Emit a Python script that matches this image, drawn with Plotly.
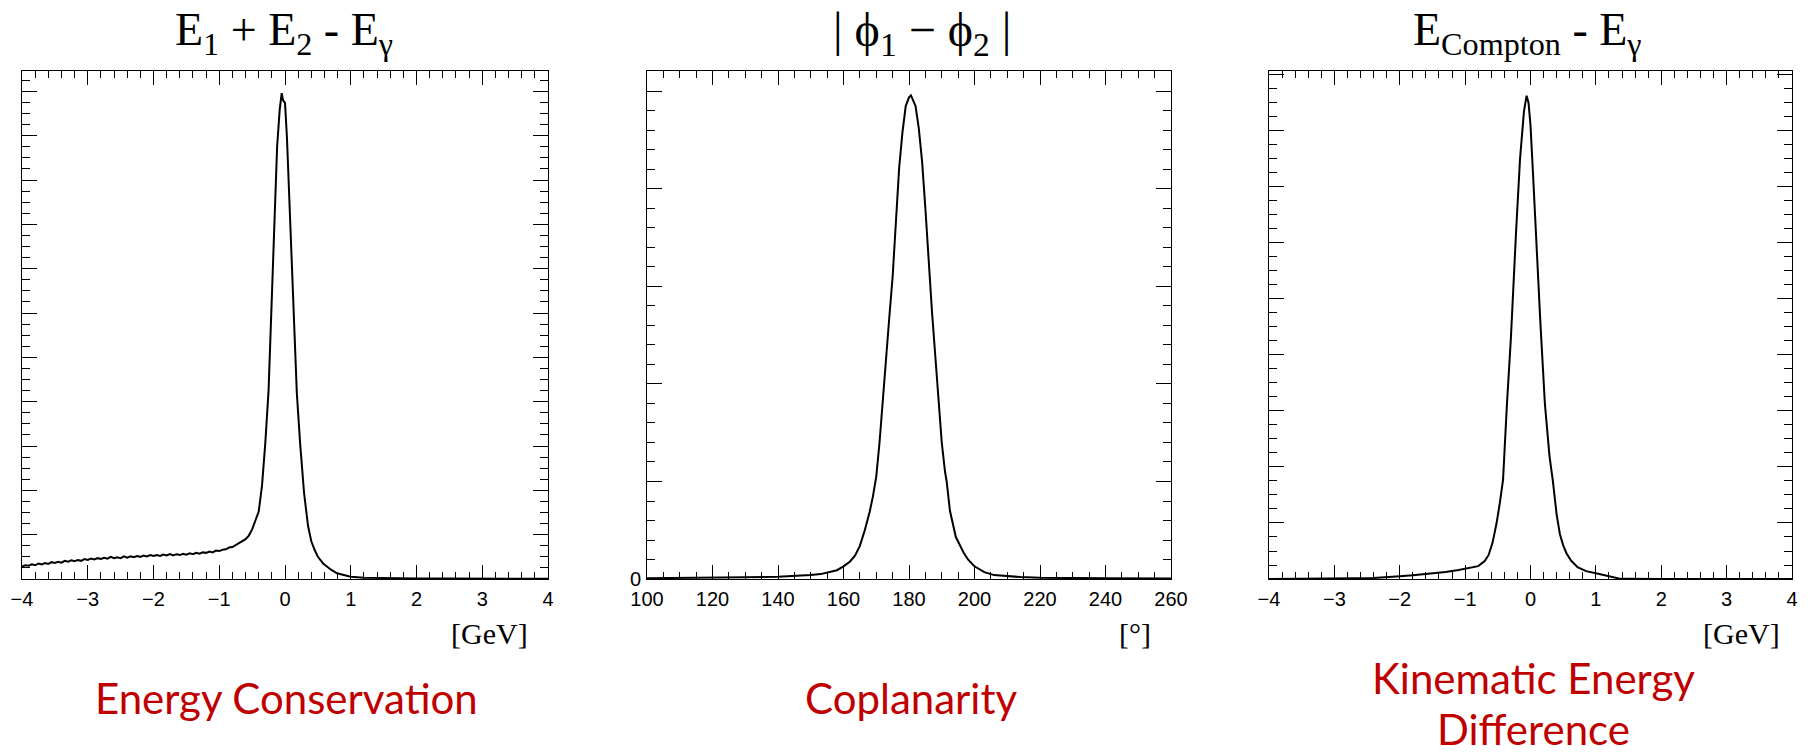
import plotly.graph_objects as go

# ---------------- data ----------------
# Panel 1: E1 + E2 - E_gamma  [GeV]; y in units of one major y tick
p1_x = [-4.00, -3.95, -3.90, -3.85, -3.80, -3.75, -3.70, -3.65, -3.60, -3.55, -3.50, -3.45, -3.40,
        -3.35, -3.30, -3.25, -3.20, -3.15, -3.10, -3.05, -3.00, -2.95, -2.90, -2.85, -2.80, -2.75,
        -2.70, -2.65, -2.60, -2.55, -2.50, -2.45, -2.40, -2.35, -2.30, -2.25, -2.20, -2.15, -2.10,
        -2.05, -2.00, -1.95, -1.90, -1.85, -1.80, -1.75, -1.70, -1.65, -1.60, -1.55, -1.50, -1.45,
        -1.40, -1.35, -1.30, -1.25, -1.20, -1.15, -1.10, -1.05, -1.00, -0.95, -0.90, -0.85, -0.80,
        -0.75, -0.70, -0.65, -0.60, -0.55, -0.50, -0.45, -0.40, -0.35, -0.30, -0.25, -0.20, -0.15,
        -0.12, -0.08, -0.05, -0.03, 0.0, 0.03, 0.06, 0.10, 0.14, 0.18, 0.23, 0.29, 0.35, 0.40, 0.45,
        0.50, 0.58, 0.65, 0.70, 0.79, 0.90, 1.0, 1.2, 1.5, 2.0, 2.5, 3.0, 3.5, 4.0]
p1_y = [0.28, 0.31, 0.30, 0.33, 0.31, 0.35, 0.33, 0.36, 0.34, 0.38, 0.36, 0.39, 0.37,
        0.41, 0.39, 0.42, 0.40, 0.43, 0.41, 0.45, 0.43, 0.46, 0.44, 0.47, 0.45, 0.48,
        0.46, 0.50, 0.47, 0.49, 0.47, 0.51, 0.48, 0.51, 0.49, 0.52, 0.50, 0.53, 0.51,
        0.54, 0.52, 0.54, 0.52, 0.55, 0.53, 0.56, 0.53, 0.56, 0.54, 0.57, 0.55, 0.58,
        0.56, 0.59, 0.57, 0.60, 0.59, 0.62, 0.60, 0.64, 0.63, 0.66, 0.67, 0.71, 0.72,
        0.77, 0.80, 0.86, 0.90, 0.98, 1.12, 1.32, 1.52, 2.10, 3.06, 4.25, 6.40, 8.60,
        9.75, 10.60, 10.96, 10.80, 10.74, 9.95, 8.85, 7.20, 5.70, 4.19, 3.06, 1.94, 1.20, 0.85, 0.66,
        0.50, 0.35, 0.26, 0.21, 0.13, 0.08, 0.05, 0.03, 0.02, 0.012, 0.01, 0.006, 0.004, 0.003]

# Panel 2: |phi1 - phi2|  [deg]
p2_x = [100, 110, 120, 130, 140, 145, 150, 153, 156, 158, 160, 162, 163.5, 165, 166.5, 168, 169,
        170, 171, 172, 173, 174, 175, 176, 177, 178, 179, 180, 180.6, 181, 182, 183, 184, 185, 186,
        187, 188, 189, 190, 191, 191.5, 192.5, 194.3, 196.7, 198, 200, 203, 206, 210, 214, 220, 226,
        240, 260]
p2_y = [0.008, 0.010, 0.013, 0.018, 0.024, 0.03, 0.04, 0.05, 0.07, 0.09, 0.13, 0.18, 0.24, 0.34,
        0.50, 0.69, 0.85, 1.05, 1.40, 1.80, 2.22, 2.69, 3.10, 3.70, 4.22, 4.58, 4.85, 4.94, 4.96,
        4.93, 4.85, 4.62, 4.28, 3.80, 3.25, 2.75, 2.30, 1.85, 1.40, 1.10, 1.00, 0.70, 0.43, 0.27,
        0.20, 0.13, 0.07, 0.04, 0.03, 0.02, 0.013, 0.01, 0.007, 0.005]

# Panel 3: E_Compton - E_gamma  [GeV]
p3_x = [-4.0, -3.5, -3.0, -2.7, -2.4, -2.2, -2.0, -1.8, -1.6, -1.5, -1.3, -1.1, -1.0, -0.9, -0.8,
        -0.7, -0.64, -0.58, -0.52, -0.47, -0.42, -0.36, -0.30, -0.22, -0.16, -0.10, -0.06, -0.03,
        0.0, 0.04, 0.08, 0.15, 0.22, 0.29, 0.34, 0.40, 0.45, 0.50, 0.55, 0.62, 0.72, 0.85, 1.05,
        1.2, 1.35, 1.5, 2.0, 4.0]
p3_y = [0.0, 0.0, 0.005, 0.012, 0.02, 0.03, 0.05, 0.065, 0.085, 0.10, 0.125, 0.16, 0.18, 0.20,
        0.23, 0.32, 0.43, 0.65, 0.99, 1.35, 1.77, 3.13, 4.30, 6.22, 7.50, 8.35, 8.63, 8.50, 8.10,
        7.20, 6.22, 4.60, 3.13, 2.20, 1.77, 1.15, 0.80, 0.60, 0.46, 0.33, 0.21, 0.14, 0.09, 0.05,
        0.01, 0.005, 0.0, 0.0]

titles = ["E<sub>1</sub> + E<sub>2</sub> - E<sub>γ</sub>",
          "| ϕ<sub>1</sub> − ϕ<sub>2</sub> |",
          "E<sub>Compton</sub> - E<sub>γ</sub>"]
units = ["[GeV]", "[°]", "[GeV]"]
captions = [["Energy Conservation"], ["Coplanarity"], ["Kinematic Energy", "Difference"]]

x_ranges = [[-4, 4], [100, 260], [-4, 4]]
x_dticks = [1, 20, 1]
x_minor = [0.2, 5, 0.2]
y_ranges = [[0, 11.46], [0, 5.21], [0, 9.07]]
y_minor = [0.25, 0.2, 0.25]

# ---------------- layout geometry (pixels) ----------------
W, H = 1808, 754
panels_px = [(22, 548), (647, 1171), (1269, 1792)]
top_px, bot_px = 71, 579
title_cx = [284, 922, 1527]
title_size = [46, 48, 46]
unit_right = [530, 1153, 1782]
cap_cx = [286, 911, 1533]

def px(x):
    return x / W

def py(y):
    return 1 - y / H

fig = go.Figure()
series = [(p1_x, p1_y), (p2_x, p2_y), (p3_x, p3_y)]
for i, (xs, ys) in enumerate(series):
    n = "" if i == 0 else str(i + 1)
    fig.add_trace(go.Scatter(x=xs, y=ys, mode="lines", xaxis="x" + n, yaxis="y" + n,
                             line=dict(color="black", width=2), showlegend=False,
                             hoverinfo="skip"))

axis_font = dict(family="Liberation Sans, Arial, sans-serif", size=20, color="black")
for i in range(3):
    n = "" if i == 0 else str(i + 1)
    l, r = panels_px[i]
    fig.layout["xaxis" + n] = dict(
        domain=[px(l), px(r)], range=x_ranges[i], anchor="y" + n,
        tick0=0, dtick=x_dticks[i], ticks="inside", ticklen=14, tickwidth=1, tickcolor="black",
        minor=dict(dtick=x_minor[i], tick0=0, ticks="inside", ticklen=7, tickwidth=1, tickcolor="black", showgrid=False),
        showline=True, linecolor="black", linewidth=1, mirror="allticks",
        showgrid=False, zeroline=False, tickfont=axis_font, ticklabelstandoff=2,
        automargin=False, fixedrange=True)
    yax = dict(
        domain=[py(bot_px), py(top_px)], range=y_ranges[i], anchor="x" + n,
        tick0=0, dtick=1, ticks="inside", ticklen=15, tickwidth=1, tickcolor="black",
        minor=dict(dtick=y_minor[i], tick0=0, ticks="inside", ticklen=8, tickwidth=1, tickcolor="black", showgrid=False),
        showline=True, linecolor="black", linewidth=1, mirror="allticks",
        showgrid=False, zeroline=False, tickfont=axis_font, automargin=False, fixedrange=True)
    if i == 1:
        yax["showticklabels"] = True
        yax["ticklabelstep"] = 20
        yax["ticklabelstandoff"] = 1
    else:
        yax["showticklabels"] = False
    fig.layout["yaxis" + n] = yax

annotations = []
for i in range(3):
    annotations.append(dict(text=titles[i], x=px(title_cx[i]), y=py(33), xref="paper", yref="paper",
                            xanchor="center", yanchor="middle", showarrow=False,
                            font=dict(family="Liberation Serif, Times New Roman, serif", size=title_size[i], color="black")))
    annotations.append(dict(text=units[i], x=px(unit_right[i]), y=py(633), xref="paper", yref="paper",
                            xanchor="right", yanchor="middle", showarrow=False,
                            font=dict(family="Liberation Serif, Times New Roman, serif", size=30, color="black")))
    lines = captions[i]
    ys = [697.5] if len(lines) == 1 else [677.5, 729]
    for t, yy in zip(lines, ys):
        annotations.append(dict(text=t, x=px(cap_cx[i]), y=py(yy), xref="paper", yref="paper",
                                xanchor="center", yanchor="middle", showarrow=False,
                                font=dict(family="Lato, Carlito, Calibri, sans-serif", size=42, color="#C00000")))

fig.update_layout(width=W, height=H, margin=dict(l=0, r=0, t=0, b=0),
                  paper_bgcolor="white", plot_bgcolor="white", annotations=annotations)

fig.write_html("out.html", config={"displayModeBar": False},
               post_script="document.body.style.margin='0';document.body.style.overflow='hidden';")
